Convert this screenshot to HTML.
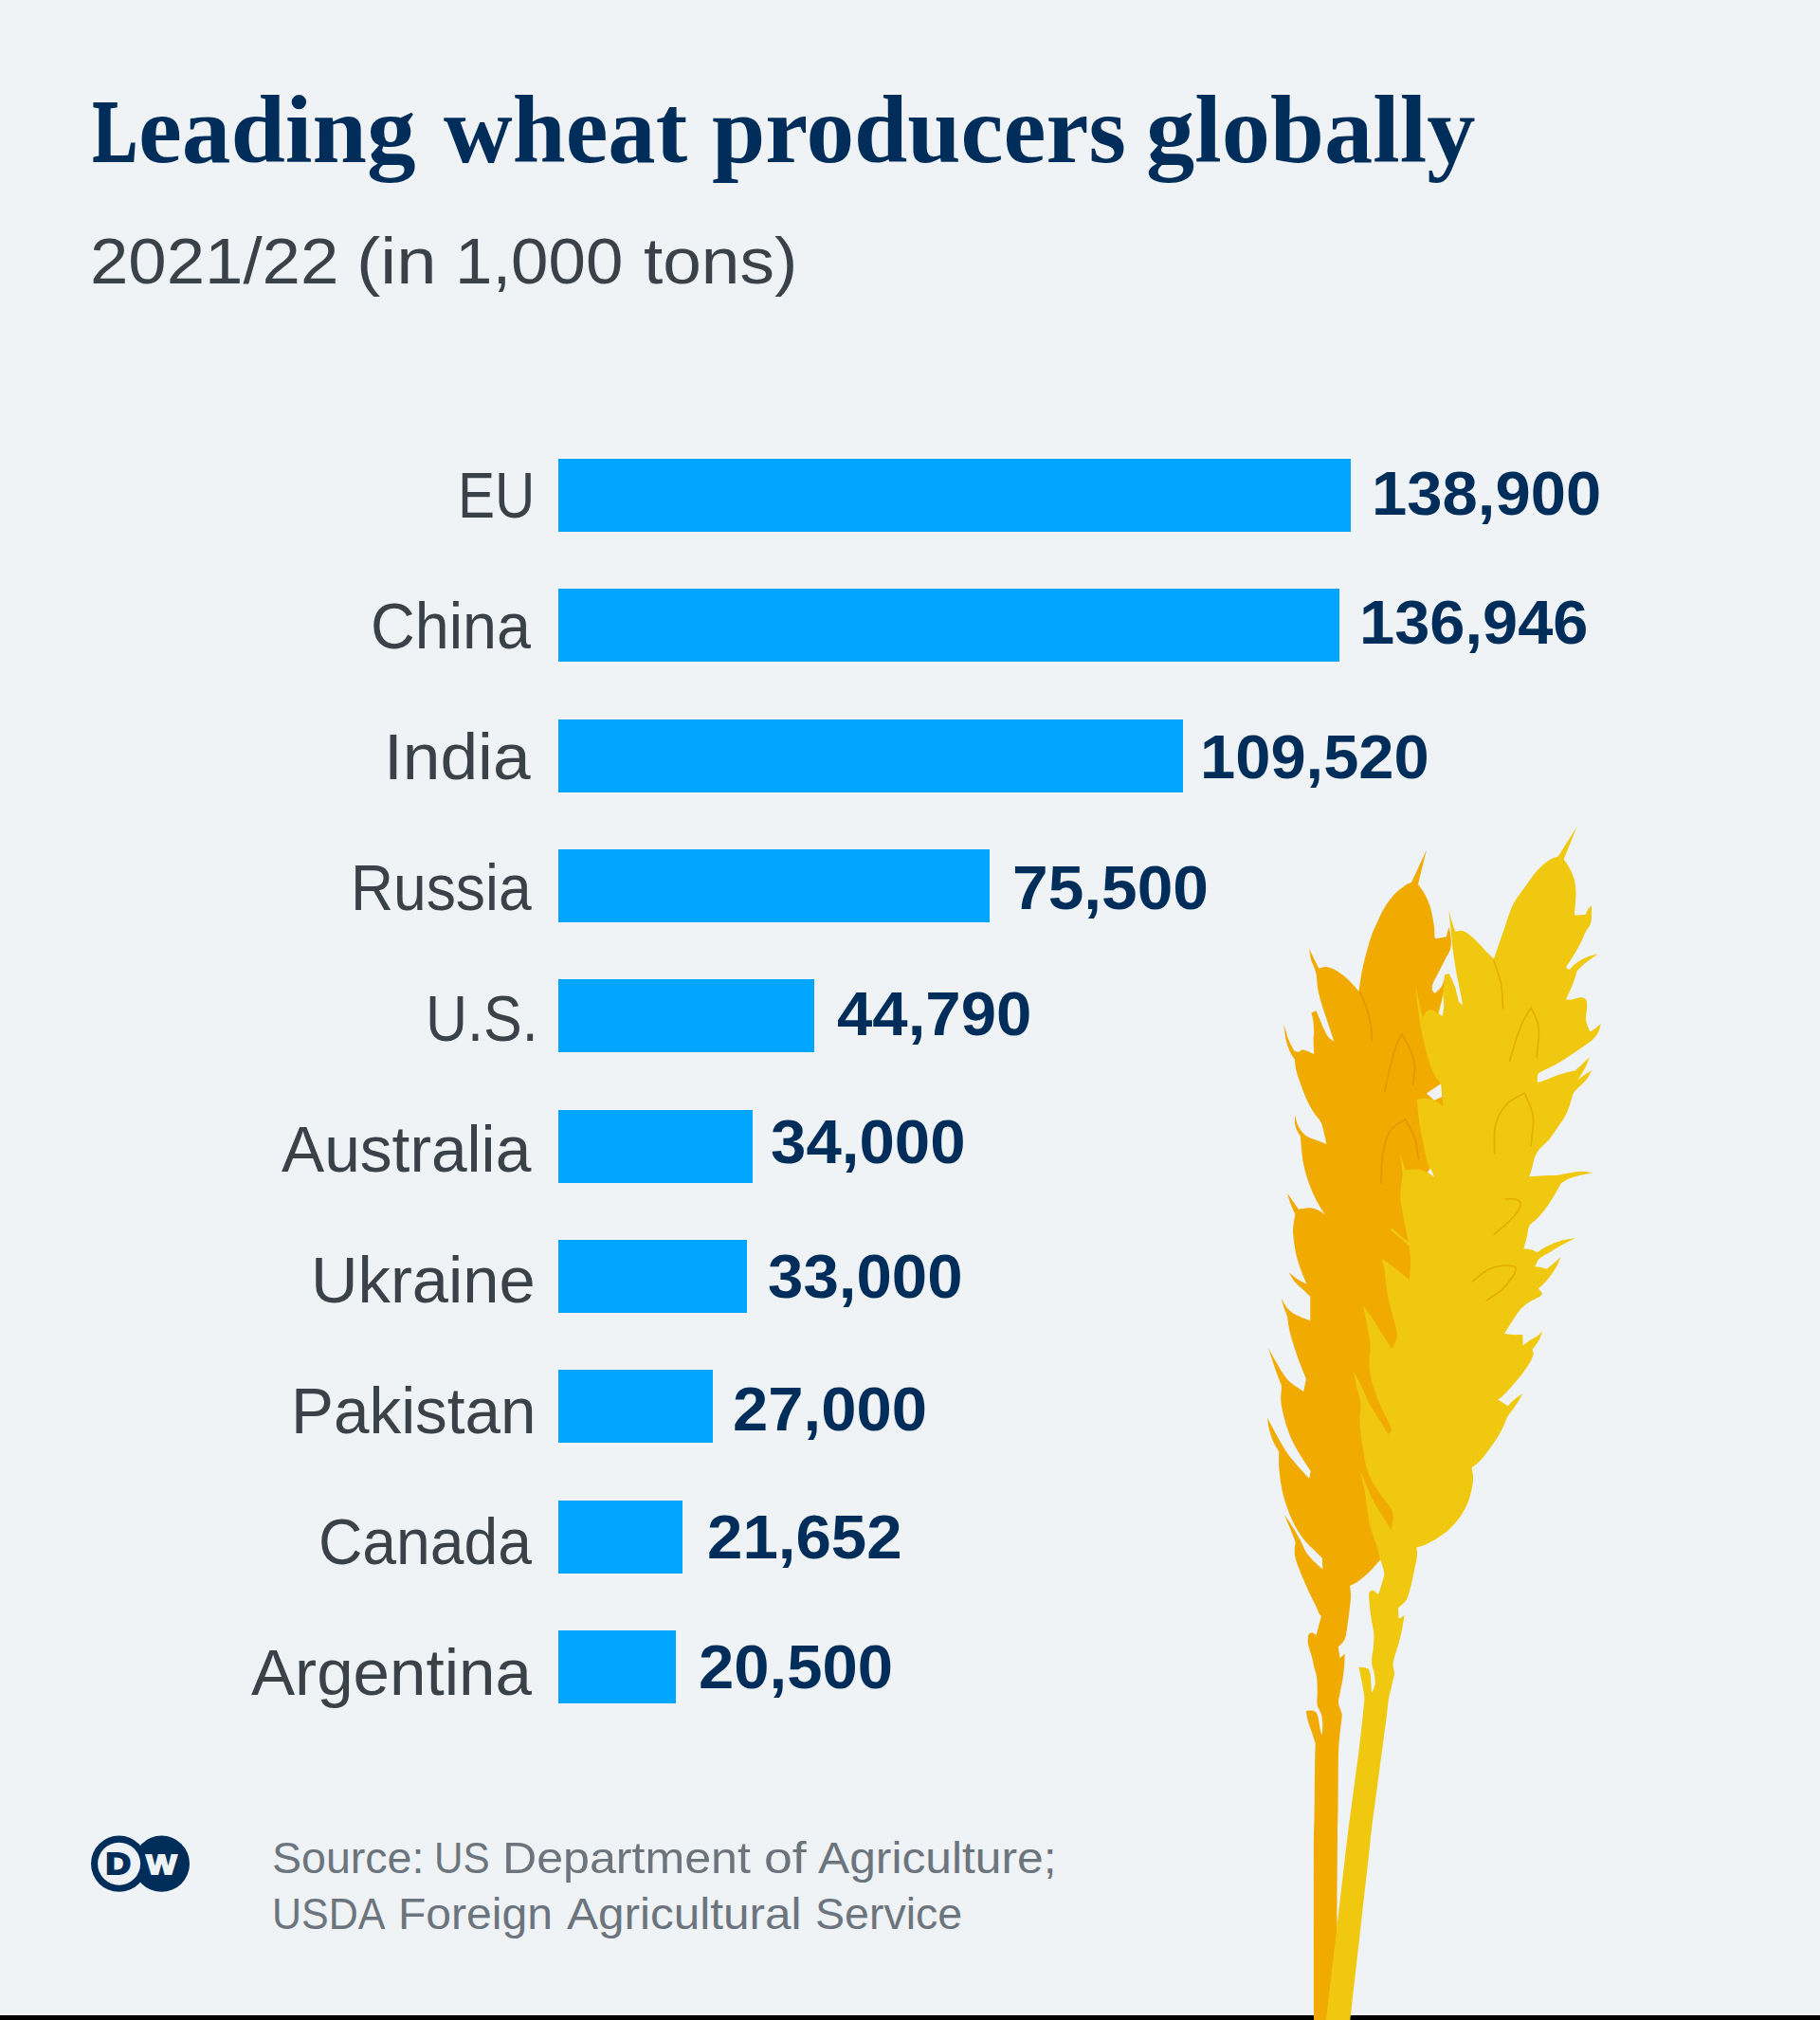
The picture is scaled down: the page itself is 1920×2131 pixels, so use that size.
<!DOCTYPE html>
<html lang="en"><head><meta charset="utf-8"><title>Leading wheat producers globally</title>
<style>
*{margin:0;padding:0;box-sizing:border-box}
html,body{width:1920px;height:2131px;background:#eff3f6;overflow:hidden}
body{font-family:"Liberation Sans",sans-serif;position:relative}
#page{position:absolute;left:0;top:0;width:1920px;height:2131px;background:#eff3f6;overflow:hidden}
.t{position:absolute;white-space:nowrap;line-height:1;transform-origin:0 0}
h1 .w:first-child{-webkit-text-stroke:2.2px #002d5a}
h1{position:absolute;left:0;top:0;font-family:"Liberation Serif",serif;font-weight:bold;color:#002d5a;font-size:101px}
.sub{position:absolute;left:0;top:0;color:#3b4149;font-weight:normal;font-size:69px}
ul{list-style:none}
.lab{color:#3b4149;font-size:68px}
.val{color:#002d5a;font-weight:bold;font-size:65px}
.bar{position:absolute;left:589.0px;height:77px;background:#00a5ff}
.src{position:absolute;left:0;top:0;color:#6c757d;font-size:46px}
#rule{position:absolute;left:0;top:2126px;width:1920px;height:5px;background:#000}
svg{position:absolute;overflow:visible}
</style></head>
<body><div id="page">
<header>
<h1><span class="t w" style="font-size:94px;left:98.21px;top:91.05px;transform:scaleX(0.7456)">L</span><span class="t w" style="left:146.23px;top:86.82px;transform:scaleX(1.0220)">eading</span> <span class="t w" style="left:467.90px;top:86.82px;transform:scaleX(0.9965)">wheat</span> <span class="t w" style="left:751.00px;top:86.82px;transform:scaleX(1.0023)">producers</span> <span class="t w" style="left:1208.96px;top:86.82px;transform:scaleX(1.0148)">globally</span></h1>
<p class="sub"><span class="t w" style="left:94.85px;top:240.89px;transform:scaleX(1.0514)">2021/22</span> <span class="t w" style="left:375.59px;top:240.89px;transform:scaleX(1.1029)">(in</span> <span class="t w" style="left:479.87px;top:240.89px;transform:scaleX(1.0267)">1,000</span> <span class="t w" style="left:678.94px;top:240.89px;transform:scaleX(1.0574)">tons)</span></p>
</header>
<main>
<ul>
<li><span class="t lab" style="left:482.83px;top:488.44px;transform:scaleX(0.8614)">EU</span><span class="bar" style="top:483.80px;width:836.00px"></span><span class="t val" style="left:1446.88px;top:488.38px;transform:scaleX(1.0307)">138,900</span></li>
<li><span class="t lab" style="left:391.15px;top:625.94px;transform:scaleX(0.9514)">China</span><span class="bar" style="top:621.16px;width:824.30px"></span><span class="t val" style="left:1433.59px;top:623.58px;transform:scaleX(1.0275)">136,946</span></li>
<li><span class="t lab" style="left:405.31px;top:764.24px;transform:scaleX(1.0486)">India</span><span class="bar" style="top:758.52px;width:659.30px"></span><span class="t val" style="left:1265.88px;top:766.48px;transform:scaleX(1.0289)">109,520</span></li>
<li><span class="t lab" style="left:369.80px;top:902.24px;transform:scaleX(0.9168)">Russia</span><span class="bar" style="top:895.88px;width:454.60px"></span><span class="t val" style="left:1068.28px;top:903.98px;transform:scaleX(1.0409)">75,500</span></li>
<li><span class="t lab" style="left:448.51px;top:1040.04px;transform:scaleX(0.8975)">U.S.</span><span class="bar" style="top:1033.24px;width:269.90px"></span><span class="t val" style="left:882.67px;top:1037.48px;transform:scaleX(1.0333)">44,790</span></li>
<li><span class="t lab" style="left:296.80px;top:1178.24px;transform:scaleX(0.9951)">Australia</span><span class="bar" style="top:1170.60px;width:205.00px"></span><span class="t val" style="left:813.33px;top:1172.28px;transform:scaleX(1.0340)">34,000</span></li>
<li><span class="t lab" style="left:328.25px;top:1316.04px;transform:scaleX(1.0102)">Ukraine</span><span class="bar" style="top:1307.96px;width:198.90px"></span><span class="t val" style="left:810.23px;top:1314.38px;transform:scaleX(1.0340)">33,000</span></li>
<li><span class="t lab" style="left:306.75px;top:1453.94px;transform:scaleX(0.9912)">Pakistan</span><span class="bar" style="top:1445.32px;width:162.80px"></span><span class="t val" style="left:773.34px;top:1454.08px;transform:scaleX(1.0309)">27,000</span></li>
<li><span class="t lab" style="left:335.77px;top:1591.74px;transform:scaleX(0.9443)">Canada</span><span class="bar" style="top:1582.68px;width:130.70px"></span><span class="t val" style="left:745.63px;top:1589.38px;transform:scaleX(1.0340)">21,652</span></li>
<li><span class="t lab" style="left:264.60px;top:1729.94px;transform:scaleX(1.0168)">Argentina</span><span class="bar" style="top:1720.04px;width:123.70px"></span><span class="t val" style="left:736.94px;top:1726.28px;transform:scaleX(1.0309)">20,500</span></li>
</ul>
</main>
<div id="rule"></div>
<svg id="wheat" aria-hidden="true" style="left:0;top:0" width="1920" height="2131" viewBox="0 0 1920 2131">
<path fill="#f0aa00" d="M1504.8 897.0L1496.0 932.7C1498.2 936.0 1500.6 938.9 1502.6 942.6C1504.6 946.3 1506.6 950.5 1508.1 954.7C1509.6 958.9 1510.6 963.9 1511.4 967.9C1512.2 971.9 1512.8 975.4 1513.1 978.9C1513.4 982.4 1513.3 985.5 1513.4 988.8C1514.2 989.2 1513.8 990.0 1515.8 989.9C1517.8 989.8 1522.4 988.8 1525.7 988.2L1528.5 977.8C1529.2 981.8 1530.4 986.0 1530.7 989.9C1531.0 993.8 1531.1 997.2 1530.1 1000.9C1529.1 1004.6 1526.6 1007.9 1524.6 1011.9C1522.6 1015.9 1520.2 1020.7 1518.0 1025.1C1515.8 1029.5 1512.6 1034.9 1511.4 1038.2C1510.2 1041.5 1511.1 1042.6 1510.9 1044.8L1513.6 1048.1C1515.8 1045.9 1518.5 1043.9 1520.2 1041.5C1521.9 1039.1 1522.7 1035.9 1523.5 1033.8C1524.3 1031.7 1524.5 1030.6 1525.0 1029.0L1545.0 1060.0L1540.0 1150.0L1520.0 1300.0L1490.0 1450.0L1475.0 1600.0L1456.2 1645.3C1453.9 1648.0 1451.8 1650.6 1449.3 1653.3C1446.8 1656.0 1444.4 1658.6 1441.4 1661.2C1438.4 1663.8 1434.4 1667.1 1431.5 1669.1C1428.6 1671.1 1426.6 1671.8 1424.1 1673.1C1424.4 1676.7 1425.1 1679.7 1425.0 1684.0C1424.9 1688.3 1424.2 1693.8 1423.6 1698.8C1423.0 1703.8 1422.3 1709.1 1421.6 1713.7C1420.9 1718.3 1420.4 1723.4 1419.6 1726.5C1418.8 1729.6 1417.9 1730.7 1416.6 1732.5C1415.3 1734.3 1413.3 1735.8 1411.7 1737.4L1413.7 1749.3L1418.6 1744.4C1418.4 1749.0 1418.5 1753.6 1418.1 1758.2C1417.7 1762.8 1417.2 1767.2 1416.4 1771.9C1415.6 1776.7 1414.2 1782.6 1413.5 1786.7C1412.8 1790.8 1411.7 1793.1 1412.0 1796.6C1412.3 1800.1 1414.8 1804.7 1415.4 1807.5C1416.0 1810.3 1415.7 1809.9 1415.4 1813.5C1415.1 1817.1 1414.1 1823.4 1413.5 1829.3C1412.9 1835.2 1412.3 1840.8 1412.0 1849.1C1411.7 1857.3 1411.8 1868.9 1411.7 1878.8C1411.6 1888.7 1411.6 1898.6 1411.5 1908.5C1411.4 1918.4 1411.2 1918.5 1411.0 1938.2C1410.8 1958.0 1410.6 1994.9 1410.5 2027.0C1410.4 2059.1 1410.4 2096.3 1410.3 2131.0L1386.0 2131.0C1386.0 2074.0 1385.8 1995.4 1385.9 1960.0C1386.0 1924.6 1386.3 1930.3 1386.5 1918.4C1386.7 1906.5 1386.8 1898.6 1386.9 1888.7C1387.0 1878.8 1387.1 1867.2 1387.2 1859.0C1387.3 1850.8 1387.5 1845.8 1387.7 1839.2C1386.4 1835.2 1385.1 1831.3 1383.8 1827.3C1382.5 1823.3 1380.8 1819.1 1379.8 1815.4C1378.8 1811.7 1378.5 1808.5 1377.8 1805.0C1379.8 1804.9 1382.1 1804.3 1383.8 1804.6C1385.5 1804.8 1387.0 1805.2 1388.2 1806.5C1389.4 1807.8 1390.0 1809.5 1390.7 1812.5C1391.5 1815.5 1392.0 1821.4 1392.7 1824.4C1393.4 1827.5 1394.0 1828.7 1394.7 1830.8C1394.9 1827.0 1395.4 1823.0 1395.3 1819.4C1395.2 1815.9 1394.8 1812.1 1394.2 1809.5C1393.6 1806.9 1392.5 1805.6 1391.7 1803.6C1390.9 1801.6 1389.8 1800.7 1389.5 1797.6C1389.2 1794.5 1389.8 1789.4 1389.7 1784.8C1389.7 1780.2 1389.7 1774.0 1389.2 1769.9C1388.7 1765.8 1387.5 1763.6 1386.6 1760.0C1385.7 1756.4 1385.1 1752.5 1384.0 1748.3C1382.9 1744.0 1380.7 1738.1 1380.0 1734.5C1379.3 1730.9 1379.8 1728.4 1380.0 1726.5C1380.2 1724.6 1381.0 1724.2 1381.5 1723.1C1382.7 1722.9 1383.8 1722.2 1385.0 1722.6C1386.2 1723.0 1387.3 1724.5 1388.4 1725.5C1389.2 1722.5 1390.0 1720.0 1390.9 1716.6C1391.8 1713.1 1392.9 1708.7 1393.9 1704.8C1393.1 1703.9 1392.5 1703.8 1391.5 1702.0C1390.5 1700.2 1389.7 1697.4 1388.2 1694.3C1386.7 1691.2 1384.7 1687.5 1382.7 1683.3C1380.7 1679.1 1378.2 1673.6 1376.2 1669.0C1374.2 1664.4 1372.4 1660.2 1370.7 1655.8C1369.0 1651.4 1367.1 1646.3 1366.3 1642.6C1365.5 1638.8 1365.9 1636.4 1365.7 1633.3C1365.9 1630.9 1367.1 1629.8 1366.3 1626.2C1365.5 1622.6 1362.7 1616.6 1360.8 1611.9C1358.9 1607.2 1356.7 1602.7 1354.7 1598.1C1357.5 1602.0 1360.2 1605.2 1363.0 1609.7C1365.8 1614.2 1369.2 1620.2 1371.8 1625.0C1374.4 1629.8 1375.9 1634.4 1378.4 1638.2C1381.0 1642.0 1384.3 1645.2 1387.1 1648.1C1389.9 1651.0 1392.6 1653.2 1395.4 1655.8L1394.8 1643.7C1392.2 1641.1 1390.0 1638.9 1387.1 1636.0C1384.2 1633.1 1380.6 1630.2 1377.3 1626.2C1374.0 1622.2 1370.3 1617.0 1367.4 1611.9C1364.5 1606.8 1361.9 1600.9 1359.7 1595.4C1357.5 1589.9 1355.7 1584.4 1354.2 1578.9C1352.7 1573.4 1351.7 1567.9 1350.9 1562.4C1350.1 1556.9 1349.5 1551.0 1349.2 1545.9C1348.9 1540.8 1349.2 1536.4 1349.2 1531.6C1347.2 1528.0 1344.9 1524.7 1343.2 1520.7C1341.5 1516.7 1339.8 1511.6 1338.8 1507.5C1337.8 1503.4 1337.7 1499.8 1337.1 1495.9C1338.8 1499.0 1340.0 1501.3 1342.1 1505.3C1344.2 1509.2 1347.0 1514.8 1349.8 1519.6C1352.5 1524.3 1355.5 1529.4 1358.6 1533.8C1361.7 1538.2 1364.8 1541.6 1368.5 1545.9C1372.2 1550.2 1376.9 1555.1 1381.1 1559.7L1382.7 1552.0C1379.4 1547.0 1376.0 1542.1 1372.9 1537.1C1369.8 1532.1 1366.7 1527.1 1364.1 1521.8C1361.5 1516.5 1359.2 1510.4 1357.5 1505.3C1355.8 1500.2 1354.6 1495.6 1353.6 1491.0C1352.6 1486.4 1351.5 1482.6 1351.3 1477.8C1351.0 1473.0 1351.8 1467.5 1352.1 1462.4C1349.9 1456.5 1347.8 1451.5 1345.5 1444.8C1343.2 1438.1 1340.6 1429.7 1338.1 1422.2C1340.9 1427.3 1344.1 1433.1 1346.6 1437.5C1349.1 1441.9 1350.8 1445.1 1353.2 1448.5C1355.6 1451.9 1357.3 1454.8 1361.0 1458.0C1364.7 1461.2 1370.5 1464.6 1375.2 1467.9L1377.9 1454.7C1377.0 1452.5 1376.6 1451.6 1375.2 1448.1C1373.8 1444.6 1371.5 1438.9 1369.7 1433.8C1367.9 1428.7 1365.9 1422.9 1364.2 1417.4C1362.5 1411.9 1360.8 1405.7 1359.8 1400.9C1358.8 1396.1 1358.7 1392.8 1358.1 1388.8C1356.8 1385.5 1355.4 1382.1 1354.3 1378.9C1353.2 1375.7 1352.4 1372.7 1351.5 1369.6C1353.7 1373.1 1355.4 1377.1 1358.0 1380.0C1360.6 1382.9 1363.0 1384.8 1367.0 1387.0C1371.0 1389.2 1377.2 1391.1 1382.3 1393.2L1382.3 1367.9C1379.2 1365.0 1375.8 1361.8 1373.0 1359.1C1370.2 1356.3 1367.5 1354.2 1365.3 1351.4C1363.1 1348.7 1361.6 1345.5 1359.8 1342.6C1362.5 1344.7 1364.9 1347.0 1368.0 1349.0C1371.1 1351.0 1375.0 1352.8 1378.5 1354.7C1376.7 1350.3 1374.8 1346.6 1373.0 1341.5C1371.2 1336.4 1369.0 1330.6 1367.5 1324.0C1366.0 1317.4 1364.7 1307.5 1364.2 1302.0C1363.7 1296.5 1364.3 1294.5 1364.7 1291.0C1365.1 1287.5 1365.8 1284.4 1366.4 1281.1C1364.7 1277.4 1362.8 1273.8 1361.4 1270.1C1360.0 1266.4 1359.2 1262.8 1358.1 1259.1C1359.9 1261.6 1361.5 1263.7 1363.5 1266.5C1365.5 1269.3 1367.8 1272.7 1370.0 1275.8C1371.7 1275.6 1372.9 1275.3 1375.2 1275.1C1377.5 1274.9 1381.1 1274.0 1384.0 1274.5C1386.9 1275.0 1390.3 1276.5 1392.7 1277.8C1395.1 1279.1 1396.4 1280.7 1398.2 1282.2C1396.4 1279.3 1394.7 1276.9 1392.7 1273.4C1390.7 1269.9 1388.4 1266.1 1386.2 1261.3C1384.0 1256.5 1381.4 1250.3 1379.6 1244.8C1377.8 1239.3 1376.3 1233.9 1375.2 1228.4C1374.1 1222.9 1373.5 1216.9 1373.0 1211.9C1372.5 1207.0 1372.3 1203.1 1371.9 1198.7C1370.8 1196.8 1369.5 1195.3 1368.5 1193.0C1367.5 1190.7 1366.3 1187.8 1366.0 1185.0C1365.7 1182.2 1366.3 1179.1 1366.4 1176.2C1367.1 1179.3 1367.4 1182.7 1368.5 1185.5C1369.6 1188.3 1371.1 1190.9 1372.9 1193.2C1374.8 1195.5 1376.8 1197.6 1379.6 1199.2C1382.4 1200.8 1386.2 1201.8 1389.5 1203.1C1392.8 1204.4 1396.0 1205.6 1399.3 1206.9C1398.6 1203.4 1398.0 1200.2 1397.1 1196.5C1396.2 1192.8 1395.4 1187.9 1393.8 1184.4C1392.2 1180.9 1389.7 1179.3 1387.3 1175.6C1384.9 1171.9 1382.0 1167.4 1379.6 1162.4C1377.2 1157.5 1375.0 1151.4 1373.0 1145.9C1371.0 1140.4 1368.7 1134.2 1367.5 1129.5C1366.3 1124.8 1366.4 1121.4 1365.8 1117.4C1364.2 1114.8 1362.5 1113.2 1360.9 1109.7C1359.4 1106.2 1357.6 1101.5 1356.5 1096.5C1355.4 1091.5 1355.0 1085.5 1354.3 1080.0C1355.9 1085.5 1357.4 1091.7 1359.2 1096.5C1361.0 1101.3 1363.3 1104.6 1365.3 1108.6C1366.8 1109.0 1368.0 1109.9 1369.7 1109.7C1371.4 1109.5 1372.5 1107.1 1375.2 1107.5C1378.0 1107.9 1382.5 1110.4 1386.2 1111.9C1386.0 1106.8 1385.6 1100.3 1385.6 1096.5C1385.6 1092.7 1386.3 1092.3 1386.2 1088.8C1386.1 1085.3 1385.6 1079.0 1385.1 1075.6C1384.6 1072.2 1384.0 1070.9 1383.4 1068.5L1388.4 1066.3C1389.5 1068.7 1390.1 1070.0 1391.6 1073.4C1393.0 1076.8 1395.4 1083.1 1397.1 1086.6C1398.8 1090.1 1399.8 1092.3 1401.5 1094.3C1403.2 1096.3 1405.2 1097.2 1407.0 1098.7C1406.6 1097.2 1407.0 1097.8 1405.9 1094.3C1404.8 1090.8 1402.2 1083.3 1400.4 1077.8C1398.6 1072.3 1396.6 1066.8 1394.9 1061.3C1393.2 1055.8 1391.5 1050.1 1390.5 1044.8C1389.5 1039.5 1389.4 1034.6 1388.9 1029.5C1388.4 1027.3 1388.3 1025.8 1387.3 1022.9C1386.3 1020.0 1383.9 1015.6 1382.9 1011.9C1381.9 1008.2 1381.8 1004.6 1381.2 1000.9C1382.8 1004.3 1384.3 1007.5 1386.0 1011.0C1387.7 1014.5 1389.7 1018.2 1391.6 1021.8C1393.8 1021.2 1395.5 1019.9 1398.2 1020.1C1401.0 1020.3 1404.6 1021.2 1408.1 1022.9C1411.6 1024.6 1415.8 1027.8 1419.1 1030.5C1422.4 1033.2 1425.5 1036.7 1427.9 1039.3C1430.3 1041.9 1431.6 1043.7 1433.4 1045.9C1434.5 1039.0 1435.4 1031.7 1436.7 1025.1C1438.0 1018.5 1439.4 1012.6 1441.1 1006.4C1442.8 1000.2 1444.6 993.4 1446.6 987.7C1448.6 982.0 1450.8 977.4 1453.2 972.3C1455.6 967.2 1457.8 961.8 1460.9 956.9C1464.0 952.0 1468.2 946.5 1471.9 942.6C1475.6 938.8 1480.1 935.7 1482.9 933.8C1485.7 931.9 1486.9 932.0 1488.9 931.1L1504.8 897.0Z"/>
<path fill="#f0c80f" d="M1663.6 872.0L1649.7 906.5C1651.7 909.5 1653.8 911.9 1655.6 915.4C1657.4 918.9 1659.5 923.3 1660.6 927.3C1661.7 931.3 1662.2 935.2 1662.4 939.2C1662.7 943.2 1662.3 947.1 1662.1 951.1C1661.9 955.1 1661.2 960.6 1661.1 963.0C1661.0 965.4 1661.4 964.6 1661.6 965.4L1672.5 965.0C1673.5 963.0 1674.3 960.6 1675.4 959.0C1676.5 957.4 1677.7 956.5 1678.9 955.2C1678.9 959.8 1679.2 965.5 1678.9 968.9C1678.7 972.3 1678.4 973.5 1677.4 975.8C1676.4 978.1 1674.5 980.0 1673.0 982.8C1671.5 985.6 1670.2 989.2 1668.5 992.7C1666.8 996.2 1664.6 1000.1 1662.6 1003.6C1660.6 1007.1 1658.3 1010.9 1656.6 1013.5C1654.9 1016.1 1653.7 1017.4 1652.2 1019.4C1652.7 1020.4 1653.1 1021.9 1653.7 1022.4C1654.3 1022.9 1655.3 1022.4 1656.1 1022.4C1658.6 1020.1 1660.5 1017.5 1663.6 1015.4C1666.7 1013.2 1670.7 1011.0 1674.5 1009.5C1678.3 1008.0 1682.4 1007.4 1686.3 1006.3C1683.7 1008.0 1681.4 1009.3 1678.4 1011.5C1675.4 1013.7 1671.0 1017.2 1668.5 1019.4C1666.0 1021.5 1665.2 1022.7 1663.6 1024.4C1662.6 1027.7 1661.8 1031.0 1660.6 1034.3C1659.4 1037.6 1658.1 1040.8 1656.6 1044.2C1655.1 1047.6 1653.3 1051.1 1651.7 1054.5C1654.0 1054.5 1656.1 1054.9 1658.6 1054.5C1661.1 1054.1 1664.3 1052.5 1666.5 1052.2C1668.7 1052.0 1670.2 1052.2 1671.5 1053.0C1672.8 1053.8 1673.6 1055.0 1674.0 1057.0C1674.4 1059.0 1674.2 1061.8 1674.0 1064.8C1673.8 1067.8 1672.9 1071.9 1673.0 1074.7C1673.1 1077.5 1673.8 1079.3 1674.5 1081.6C1675.2 1083.9 1676.4 1086.2 1677.4 1088.5C1679.4 1087.2 1681.5 1086.0 1683.4 1084.6C1685.3 1083.2 1687.0 1081.6 1688.8 1080.1C1688.0 1082.9 1687.7 1085.8 1686.3 1088.5C1684.9 1091.2 1683.4 1093.6 1680.4 1096.4C1677.4 1099.2 1673.0 1102.2 1668.5 1105.3C1664.0 1108.4 1658.7 1112.0 1653.7 1115.2C1648.8 1118.4 1643.6 1121.6 1638.8 1124.2C1634.0 1126.8 1627.8 1129.3 1625.0 1131.1C1622.2 1132.9 1622.5 1133.2 1622.0 1135.0C1621.5 1136.8 1622.0 1139.7 1622.0 1142.0C1624.3 1141.3 1625.3 1141.3 1628.9 1140.0C1632.5 1138.7 1639.2 1135.7 1643.8 1134.1C1648.4 1132.5 1653.6 1131.3 1656.6 1130.6C1659.6 1129.8 1659.9 1129.9 1661.6 1129.6C1663.9 1127.5 1666.0 1125.6 1668.5 1123.2C1671.0 1120.8 1674.1 1117.9 1676.9 1115.2C1675.4 1118.8 1674.4 1122.3 1672.5 1126.1C1670.6 1129.9 1667.2 1135.5 1665.5 1138.0C1663.8 1140.5 1663.6 1140.0 1662.6 1141.0C1665.6 1138.7 1668.7 1136.1 1671.5 1134.1C1674.3 1132.1 1676.8 1130.8 1679.4 1129.1C1677.4 1132.4 1676.1 1135.7 1673.5 1139.0C1670.9 1142.3 1665.9 1146.4 1663.6 1148.9C1661.3 1151.4 1660.8 1151.4 1659.6 1153.9C1658.4 1156.4 1657.9 1160.0 1656.6 1163.8C1655.3 1167.6 1653.8 1172.5 1651.7 1176.6C1649.6 1180.7 1646.8 1184.2 1643.8 1188.5C1640.8 1192.8 1637.2 1198.4 1633.9 1202.4C1630.6 1206.4 1626.5 1209.2 1624.0 1212.3C1621.5 1215.4 1620.2 1218.3 1619.0 1221.2C1617.8 1224.1 1617.7 1226.6 1616.8 1229.9C1615.9 1233.2 1614.5 1237.5 1613.4 1241.3C1618.5 1241.0 1623.7 1240.5 1628.7 1240.3C1633.7 1240.0 1639.5 1240.2 1643.6 1239.8C1647.7 1239.4 1649.4 1238.5 1653.5 1237.8C1657.6 1237.1 1663.9 1235.9 1668.3 1235.8C1672.7 1235.7 1675.9 1236.8 1679.7 1237.3C1674.3 1238.5 1667.8 1239.6 1663.4 1240.8C1659.0 1242.0 1656.3 1243.0 1653.5 1244.3C1650.7 1245.6 1648.8 1247.2 1646.5 1248.7C1644.5 1252.3 1643.1 1255.5 1640.6 1259.6C1638.1 1263.7 1634.8 1269.2 1631.7 1273.5C1628.6 1277.8 1624.8 1282.0 1621.8 1285.3C1618.8 1288.6 1615.2 1290.1 1613.4 1293.3C1611.6 1296.5 1611.9 1300.2 1610.9 1304.2C1609.9 1308.2 1608.6 1313.1 1607.4 1317.5C1609.6 1317.7 1611.5 1317.4 1613.9 1318.0C1616.3 1318.6 1619.2 1320.0 1621.8 1321.0C1625.1 1319.0 1627.6 1317.0 1631.7 1315.0C1635.8 1313.0 1641.5 1310.6 1646.5 1309.1C1651.5 1307.6 1656.8 1307.1 1661.9 1306.1C1657.4 1308.4 1652.7 1310.8 1648.5 1313.1C1644.3 1315.4 1640.7 1317.5 1636.6 1320.0C1632.5 1322.5 1626.7 1325.2 1623.8 1327.9C1620.9 1330.6 1620.8 1333.5 1619.3 1336.3C1621.1 1336.5 1622.7 1336.4 1624.8 1336.8C1626.9 1337.2 1629.4 1338.1 1631.7 1338.8C1634.0 1336.8 1636.1 1335.0 1638.6 1332.9C1641.1 1330.8 1643.9 1328.6 1646.5 1326.4C1644.5 1330.5 1643.1 1334.8 1640.6 1338.8C1638.1 1342.8 1634.7 1347.2 1631.7 1350.7C1628.7 1354.2 1625.8 1356.6 1622.8 1359.6L1627.2 1364.6C1626.4 1365.6 1627.3 1365.8 1624.8 1367.5C1622.2 1369.2 1615.5 1372.0 1611.9 1374.5C1608.3 1377.0 1605.8 1379.1 1603.0 1382.4C1600.2 1385.7 1597.7 1390.2 1595.0 1394.3C1592.3 1398.4 1589.7 1402.8 1587.1 1407.1C1589.7 1407.4 1591.8 1407.9 1595.0 1408.1C1598.2 1408.3 1602.6 1408.1 1606.4 1408.1L1606.6 1419.5C1609.0 1417.7 1611.3 1415.9 1613.9 1414.1C1616.5 1412.3 1620.2 1410.6 1622.4 1408.9C1624.6 1407.2 1625.7 1405.6 1627.3 1404.0C1626.0 1407.3 1625.2 1410.6 1623.4 1413.9C1621.6 1417.2 1618.7 1420.5 1616.4 1423.8L1617.9 1427.7C1616.8 1430.7 1616.4 1433.1 1614.5 1436.6C1612.6 1440.1 1609.5 1444.5 1606.5 1448.5C1603.5 1452.5 1599.9 1456.6 1596.6 1460.4C1593.3 1464.2 1589.4 1468.6 1586.7 1471.3C1584.0 1474.0 1582.4 1474.9 1580.3 1476.7C1581.8 1477.5 1583.1 1478.1 1584.8 1479.2C1586.5 1480.3 1588.7 1481.9 1590.7 1483.2C1592.7 1481.2 1594.0 1479.4 1596.6 1477.2C1599.2 1475.0 1603.2 1472.3 1606.5 1469.8C1604.5 1473.3 1603.2 1476.2 1600.6 1480.2C1598.0 1484.2 1592.8 1490.6 1590.7 1494.1C1588.6 1497.6 1589.2 1497.9 1587.7 1501.0C1586.2 1504.1 1584.4 1508.5 1581.8 1512.9C1579.2 1517.4 1575.2 1523.1 1571.9 1527.7C1568.6 1532.3 1565.2 1537.1 1562.0 1540.6C1558.8 1544.1 1555.7 1545.9 1552.6 1548.5C1553.1 1551.8 1554.0 1555.1 1554.1 1558.4C1554.2 1561.7 1553.7 1564.7 1553.1 1568.3C1552.5 1571.9 1551.4 1576.4 1550.3 1580.0C1549.2 1583.6 1548.3 1586.1 1546.3 1589.9C1544.3 1593.7 1541.4 1598.8 1538.4 1602.8C1535.4 1606.8 1532.1 1610.4 1528.5 1613.7C1524.9 1617.0 1520.7 1620.0 1516.6 1622.6C1512.5 1625.2 1507.5 1627.8 1503.8 1629.5C1500.1 1631.2 1497.5 1631.5 1494.4 1632.5C1494.6 1635.5 1495.3 1637.3 1494.9 1641.4C1494.5 1645.5 1492.9 1652.2 1491.9 1657.2C1490.9 1662.2 1490.1 1666.5 1488.9 1671.1C1487.8 1675.7 1486.2 1681.9 1485.0 1685.0C1483.8 1688.1 1483.7 1688.0 1482.0 1689.9C1480.3 1691.8 1477.3 1694.2 1475.0 1696.3L1475.5 1707.7L1481.5 1704.3C1481.0 1707.4 1480.7 1710.0 1480.0 1713.7C1479.3 1717.4 1478.5 1722.4 1477.5 1726.5C1476.5 1730.6 1475.2 1734.8 1474.1 1738.4C1473.0 1742.0 1471.8 1745.3 1471.1 1748.3C1470.3 1751.3 1469.6 1753.2 1469.6 1756.2C1469.6 1759.2 1471.2 1763.1 1471.1 1766.1C1471.0 1769.1 1469.6 1771.8 1469.1 1774.1C1468.6 1776.4 1468.6 1776.7 1467.9 1779.8C1467.2 1782.9 1465.7 1787.8 1464.9 1792.7C1464.1 1797.7 1464.0 1801.8 1463.0 1809.5C1462.0 1817.2 1460.3 1829.3 1459.0 1839.2C1457.7 1849.1 1456.3 1859.0 1455.0 1868.9C1453.7 1878.8 1452.4 1888.7 1451.1 1898.6C1449.8 1908.5 1448.3 1918.1 1447.1 1928.3C1445.9 1938.5 1447.5 1926.2 1443.7 1960.0C1439.9 1993.8 1430.8 2074.0 1424.3 2131.0L1399.0 2131.0C1405.6 2074.0 1415.2 1992.1 1418.9 1960.0C1422.6 1927.9 1420.3 1946.8 1421.4 1938.2C1422.5 1929.6 1424.0 1918.4 1425.3 1908.5C1426.6 1898.6 1428.0 1888.7 1429.3 1878.8C1430.6 1868.9 1432.1 1859.0 1433.3 1849.1C1434.5 1839.2 1435.8 1827.7 1436.7 1819.4C1437.6 1811.2 1438.3 1804.5 1438.7 1799.6C1439.1 1794.6 1439.6 1794.3 1439.2 1789.7C1438.8 1785.1 1437.2 1777.1 1436.2 1771.9C1435.2 1766.7 1434.4 1763.1 1433.5 1758.7C1435.5 1758.9 1437.7 1758.8 1439.4 1759.2C1441.1 1759.6 1442.8 1759.7 1443.9 1761.2C1445.0 1762.7 1445.4 1765.3 1445.8 1768.1C1446.2 1770.9 1446.3 1775.0 1446.5 1778.0C1446.7 1781.0 1446.9 1783.2 1447.1 1785.8C1448.0 1783.9 1449.2 1782.0 1449.8 1780.0C1450.4 1778.0 1450.9 1776.9 1450.8 1774.1C1450.7 1771.3 1449.9 1766.2 1449.3 1763.2C1448.7 1760.2 1447.6 1758.7 1447.3 1756.2C1447.0 1753.7 1447.0 1751.3 1447.3 1748.3C1447.5 1745.3 1448.5 1742.5 1448.8 1738.4C1449.1 1734.3 1449.6 1728.5 1449.3 1723.6C1449.0 1718.6 1447.5 1713.7 1446.8 1708.7C1446.1 1703.8 1445.3 1698.4 1444.9 1693.9C1444.5 1689.5 1444.1 1684.5 1444.2 1682.0C1444.3 1679.5 1444.5 1679.7 1445.3 1679.0C1446.1 1678.3 1448.0 1677.5 1449.3 1678.0C1450.6 1678.5 1452.0 1680.7 1453.3 1682.0C1453.9 1681.0 1454.4 1681.2 1455.2 1679.0C1456.0 1676.8 1457.4 1672.4 1458.2 1669.1C1459.0 1665.8 1460.5 1663.2 1460.2 1659.2C1459.9 1655.2 1457.7 1650.6 1456.2 1645.3C1454.7 1640.0 1453.1 1633.4 1451.3 1627.5C1449.5 1621.6 1446.8 1616.0 1445.3 1609.7C1443.8 1603.4 1443.0 1596.0 1442.1 1589.9C1441.2 1583.9 1440.8 1578.1 1439.9 1573.4C1439.1 1568.8 1437.7 1565.5 1437.0 1562.0C1436.3 1558.5 1436.0 1555.7 1435.5 1552.5C1437.3 1556.9 1438.8 1560.6 1441.0 1565.7C1443.2 1570.8 1445.6 1577.4 1448.7 1583.3C1451.8 1589.2 1456.5 1595.8 1459.7 1600.9C1462.9 1606.0 1465.2 1609.7 1467.9 1614.1C1468.3 1607.9 1470.9 1601.6 1469.0 1595.4C1467.1 1589.2 1460.2 1582.4 1456.4 1576.7C1452.7 1571.0 1449.1 1566.4 1446.5 1561.3C1443.9 1556.2 1442.4 1551.3 1441.0 1546.0C1439.6 1540.7 1439.1 1535.0 1438.2 1529.5C1437.3 1524.0 1436.1 1518.5 1435.5 1513.0C1434.9 1507.5 1434.4 1502.0 1434.4 1496.5C1434.4 1491.0 1436.1 1485.6 1435.5 1480.0C1434.9 1474.4 1432.3 1468.5 1431.0 1463.0C1429.7 1457.5 1428.9 1452.3 1427.9 1447.0C1430.6 1452.0 1433.3 1456.5 1436.0 1462.0C1438.7 1467.5 1441.8 1475.2 1444.3 1480.0C1446.8 1484.8 1447.5 1485.5 1450.9 1491.0C1454.3 1496.5 1460.0 1505.7 1464.6 1513.0C1465.5 1510.8 1468.8 1511.4 1467.4 1506.4C1466.1 1501.5 1459.4 1489.9 1456.5 1483.3C1453.6 1476.7 1451.7 1472.3 1449.9 1466.8C1448.1 1461.3 1446.4 1455.8 1445.5 1450.3C1444.6 1444.8 1444.4 1439.1 1444.4 1433.8C1444.4 1428.5 1446.1 1425.5 1445.5 1418.5C1444.9 1411.5 1442.3 1399.0 1441.0 1392.0C1439.7 1385.0 1438.9 1381.8 1437.8 1376.7C1441.2 1381.5 1444.6 1386.0 1448.0 1391.0C1451.4 1396.0 1454.6 1401.7 1458.0 1407.0C1461.4 1412.3 1465.1 1417.6 1468.6 1422.9C1470.4 1418.1 1473.8 1414.1 1474.0 1408.6C1474.2 1403.1 1471.3 1396.7 1469.7 1389.9C1468.1 1383.1 1465.5 1373.7 1464.2 1367.9C1463.0 1362.1 1462.8 1359.7 1462.2 1355.0C1461.6 1350.3 1461.3 1344.5 1460.5 1340.0C1459.7 1335.5 1458.4 1331.9 1457.3 1327.8C1460.9 1330.2 1464.5 1332.5 1468.0 1335.0C1471.5 1337.5 1474.8 1340.5 1478.0 1343.0C1481.2 1345.5 1484.0 1347.9 1487.0 1350.3C1487.3 1343.4 1488.1 1335.7 1488.0 1329.5C1487.9 1323.3 1487.0 1318.5 1486.2 1313.0C1485.4 1307.5 1484.0 1302.0 1482.9 1296.5C1481.8 1291.0 1480.7 1285.2 1479.8 1280.0C1478.9 1274.8 1477.7 1269.7 1477.4 1265.0C1477.1 1260.3 1477.5 1256.3 1477.9 1252.0C1478.3 1247.7 1479.0 1243.5 1479.6 1239.3C1479.2 1235.7 1479.0 1232.2 1478.5 1228.4C1478.0 1224.6 1477.4 1220.3 1476.8 1216.3C1477.7 1219.2 1478.5 1222.0 1479.5 1225.0C1480.5 1228.0 1481.7 1231.3 1482.8 1234.5C1484.7 1234.3 1485.8 1233.9 1488.4 1233.8C1491.0 1233.7 1495.1 1233.2 1498.2 1233.8C1501.3 1234.4 1504.1 1236.3 1507.0 1237.5C1507.4 1235.9 1508.5 1235.1 1508.1 1232.7C1507.7 1230.3 1505.9 1227.3 1504.8 1222.9C1503.7 1218.5 1502.6 1211.9 1501.5 1206.4C1500.4 1200.9 1499.1 1195.4 1498.2 1189.9C1497.3 1184.4 1496.5 1178.4 1496.0 1173.4C1495.5 1168.4 1495.3 1164.5 1495.0 1160.0C1498.0 1159.5 1501.0 1158.4 1504.0 1158.5C1507.0 1158.6 1510.1 1160.0 1513.1 1160.8L1521.3 1156.9L1520.2 1143.7C1517.6 1140.0 1514.7 1136.9 1512.5 1132.7C1510.3 1128.5 1508.8 1124.5 1507.0 1118.5C1505.2 1112.5 1503.0 1102.9 1501.5 1096.5C1500.0 1090.1 1499.0 1084.8 1498.2 1080.0C1497.4 1075.2 1497.0 1072.6 1496.4 1067.9C1495.8 1063.2 1495.0 1056.6 1494.5 1052.0C1494.0 1047.4 1493.8 1044.1 1493.5 1040.2C1494.5 1044.8 1495.6 1049.7 1496.5 1054.0C1497.4 1058.3 1498.2 1062.8 1499.0 1066.0C1499.8 1069.2 1500.7 1070.9 1501.5 1073.4C1502.6 1071.2 1503.1 1068.1 1504.8 1066.8C1506.5 1065.5 1509.4 1065.3 1511.4 1065.7C1513.4 1066.1 1515.1 1067.9 1516.9 1069.0C1518.8 1061.3 1521.3 1052.8 1522.5 1046.0C1523.7 1039.2 1523.5 1034.2 1524.0 1028.3L1528.6 1026.9C1530.6 1031.3 1532.9 1035.7 1534.6 1040.0C1536.3 1044.3 1537.2 1049.6 1538.6 1053.0C1540.0 1056.4 1541.7 1058.0 1543.2 1060.5C1542.4 1056.4 1541.9 1053.5 1540.8 1048.1C1539.7 1042.7 1538.1 1035.7 1536.8 1028.3C1535.5 1020.9 1533.9 1010.9 1532.9 1003.6C1531.9 996.4 1531.7 992.1 1530.9 984.8C1530.2 977.5 1529.2 968.3 1528.4 960.0C1529.4 964.0 1530.3 968.2 1531.5 972.0C1532.7 975.8 1534.0 979.2 1535.3 982.8C1537.5 982.5 1539.4 981.3 1541.8 981.8C1544.2 982.3 1546.7 983.6 1549.7 985.7C1552.7 987.9 1556.3 991.4 1559.6 994.7C1562.9 998.0 1566.8 1002.7 1569.5 1005.5C1572.2 1008.3 1573.8 1009.5 1575.9 1011.5C1577.7 1006.2 1579.5 1001.1 1581.4 995.6C1583.3 990.1 1585.3 984.6 1587.3 978.8C1589.3 973.0 1591.3 966.0 1593.3 961.0C1595.3 956.0 1596.6 953.4 1599.2 949.1C1601.8 944.8 1605.8 939.8 1609.1 935.2C1612.4 930.6 1615.7 925.4 1619.0 921.4C1622.3 917.4 1625.9 914.1 1628.9 911.5C1631.9 908.9 1634.3 907.3 1636.8 906.0C1639.3 904.7 1641.5 904.4 1643.8 903.6L1663.6 872.0Z"/>
<path fill="#f0aa00" d="M1513.1 1160.8L1521.3 1156.9L1522.4 1166.8Z"/>
<path fill="#eff3f6" d="M1504.8 1153.6L1520.2 1143.2L1521.3 1156.9L1513.1 1160.8Z"/>
<path fill="#eff3f6" d="M1505.9 1236.5L1509.2 1232.7L1513.1 1241.5Z"/>
<path fill="#eff3f6" d="M1535.4 1035.9L1537.9 1034.2L1540.6 1048.4L1543.2 1060.5L1538.9 1056.7L1536.5 1047.0Z"/>
<path fill="#eff3f6" d="M1522.6 1049.8L1517.8 1069.2L1521.9 1072.0L1523.3 1060.9Z"/>
<path fill="none" stroke="#e49600" stroke-width="1.6" stroke-linecap="round" d="M1434.7 1046.1C1436.8 1051.4 1439.1 1056.4 1441.0 1062.0C1442.9 1067.6 1444.8 1073.9 1445.9 1079.8C1447.0 1085.7 1447.0 1091.7 1447.5 1097.6"/>
<path fill="none" stroke="#e49600" stroke-width="1.6" stroke-linecap="round" d="M1460.8 1151.1C1462.5 1143.4 1464.1 1135.5 1466.0 1128.0C1467.9 1120.5 1469.9 1112.2 1472.0 1106.0C1474.1 1099.8 1476.4 1095.8 1478.6 1090.7C1481.4 1095.8 1484.7 1100.5 1487.0 1106.0C1489.3 1111.5 1491.9 1116.9 1492.5 1123.4C1493.1 1129.9 1491.2 1137.9 1490.5 1145.1"/>
<path fill="none" stroke="#e49600" stroke-width="1.6" stroke-linecap="round" d="M1456.8 1248.1C1457.5 1237.5 1457.1 1225.6 1458.8 1216.4C1460.5 1207.2 1462.7 1198.6 1466.7 1192.7C1470.7 1186.8 1477.3 1184.8 1482.6 1180.8C1485.9 1187.4 1490.2 1193.7 1492.5 1200.6C1494.8 1207.5 1495.1 1215.1 1496.4 1222.4"/>
<path fill="none" stroke="#e4ad00" stroke-width="1.6" stroke-linecap="round" d="M1575.6 1012.5C1578.3 1021.1 1581.9 1029.6 1583.6 1038.2C1585.2 1046.8 1584.9 1055.4 1585.5 1064.0"/>
<path fill="none" stroke="#e4ad00" stroke-width="1.6" stroke-linecap="round" d="M1592.5 1119.4C1595.0 1111.3 1597.6 1102.1 1600.0 1095.0C1602.4 1087.9 1604.5 1082.3 1607.0 1077.0C1609.5 1071.7 1612.5 1067.7 1615.2 1063.0C1617.9 1069.9 1622.2 1075.1 1623.2 1083.8C1624.2 1092.5 1621.9 1104.9 1621.2 1115.4"/>
<path fill="none" stroke="#e4ad00" stroke-width="1.6" stroke-linecap="round" d="M1576.6 1216.4C1576.9 1206.5 1575.4 1195.3 1577.6 1186.7C1579.8 1178.1 1584.4 1170.6 1589.5 1165.0C1594.6 1159.4 1602.0 1157.1 1608.3 1153.1C1611.3 1161.0 1616.0 1167.6 1617.2 1176.8C1618.4 1186.0 1615.9 1197.9 1615.2 1208.5"/>
<path fill="none" stroke="#e4ad00" stroke-width="1.6" stroke-linecap="round" d="M1588.1 1265.0C1591.7 1265.0 1596.3 1264.2 1599.0 1265.0C1601.7 1265.8 1603.7 1267.3 1604.0 1269.5C1604.3 1271.7 1603.5 1274.8 1601.0 1278.4C1598.5 1282.0 1593.2 1287.3 1589.1 1291.3C1585.0 1295.3 1580.5 1298.6 1576.2 1302.2"/>
<path fill="none" stroke="#e4ad00" stroke-width="1.6" stroke-linecap="round" d="M1553.5 1351.7C1558.8 1347.7 1564.2 1342.5 1569.3 1339.8C1574.4 1337.1 1579.2 1335.7 1584.2 1335.3C1589.2 1334.9 1597.2 1335.2 1599.0 1337.3C1600.8 1339.4 1597.5 1343.8 1595.0 1347.7C1592.5 1351.6 1588.7 1356.5 1584.2 1360.6C1579.8 1364.6 1573.6 1368.2 1568.3 1372.0"/>
<path fill="none" stroke="#f0c80f" stroke-width="2.4" d="M1467.5 1296.5L1487 1313"/>
</svg>
<footer>
<svg id="logo" style="left:90px;top:1930px" width="120" height="72" viewBox="90 1930 120 72" role="img" aria-label="DW">
<circle cx="170.4" cy="1966.2" r="29.6" fill="#002d5a"/>
<circle cx="125.6" cy="1966.2" r="29.6" fill="#002d5a"/>
<circle cx="125.6" cy="1966.2" r="22.5" fill="#eff3f6"/>
<text x="111.6" y="1976.8" font-family="Liberation Sans, sans-serif" font-weight="bold" font-size="31.5" fill="#002d5a" stroke="#002d5a" stroke-width="2" stroke-linejoin="miter" textLength="26.4" lengthAdjust="spacingAndGlyphs">D</text>
<text x="154.3" y="1976.6" font-family="Liberation Sans, sans-serif" font-weight="bold" font-size="29.5" fill="#eff3f6" stroke="#eff3f6" stroke-width="1.8" stroke-linejoin="miter" textLength="32.2" lengthAdjust="spacingAndGlyphs">W</text>
</svg>

<p class="src"><span class="t w" style="left:287.28px;top:1937.06px;transform:scaleX(1.0118)">Source:</span> <span class="t w" style="left:457.93px;top:1937.06px;transform:scaleX(0.9172)">US</span> <span class="t w" style="left:529.74px;top:1937.06px;transform:scaleX(1.0898)">Department</span> <span class="t w" style="left:806.27px;top:1937.06px;transform:scaleX(1.1667)">of</span> <span class="t w" style="left:863.00px;top:1937.06px;transform:scaleX(1.0811)">Agriculture;</span><br><span class="t w" style="left:287.26px;top:1995.56px;transform:scaleX(0.9350)">USDA</span> <span class="t w" style="left:420.42px;top:1995.56px;transform:scaleX(1.0450)">Foreign</span> <span class="t w" style="left:597.70px;top:1995.56px;transform:scaleX(1.0762)">Agricultural</span> <span class="t w" style="left:859.78px;top:1995.56px;transform:scaleX(1.0121)">Service</span></p>
</footer>
</div></body></html>
